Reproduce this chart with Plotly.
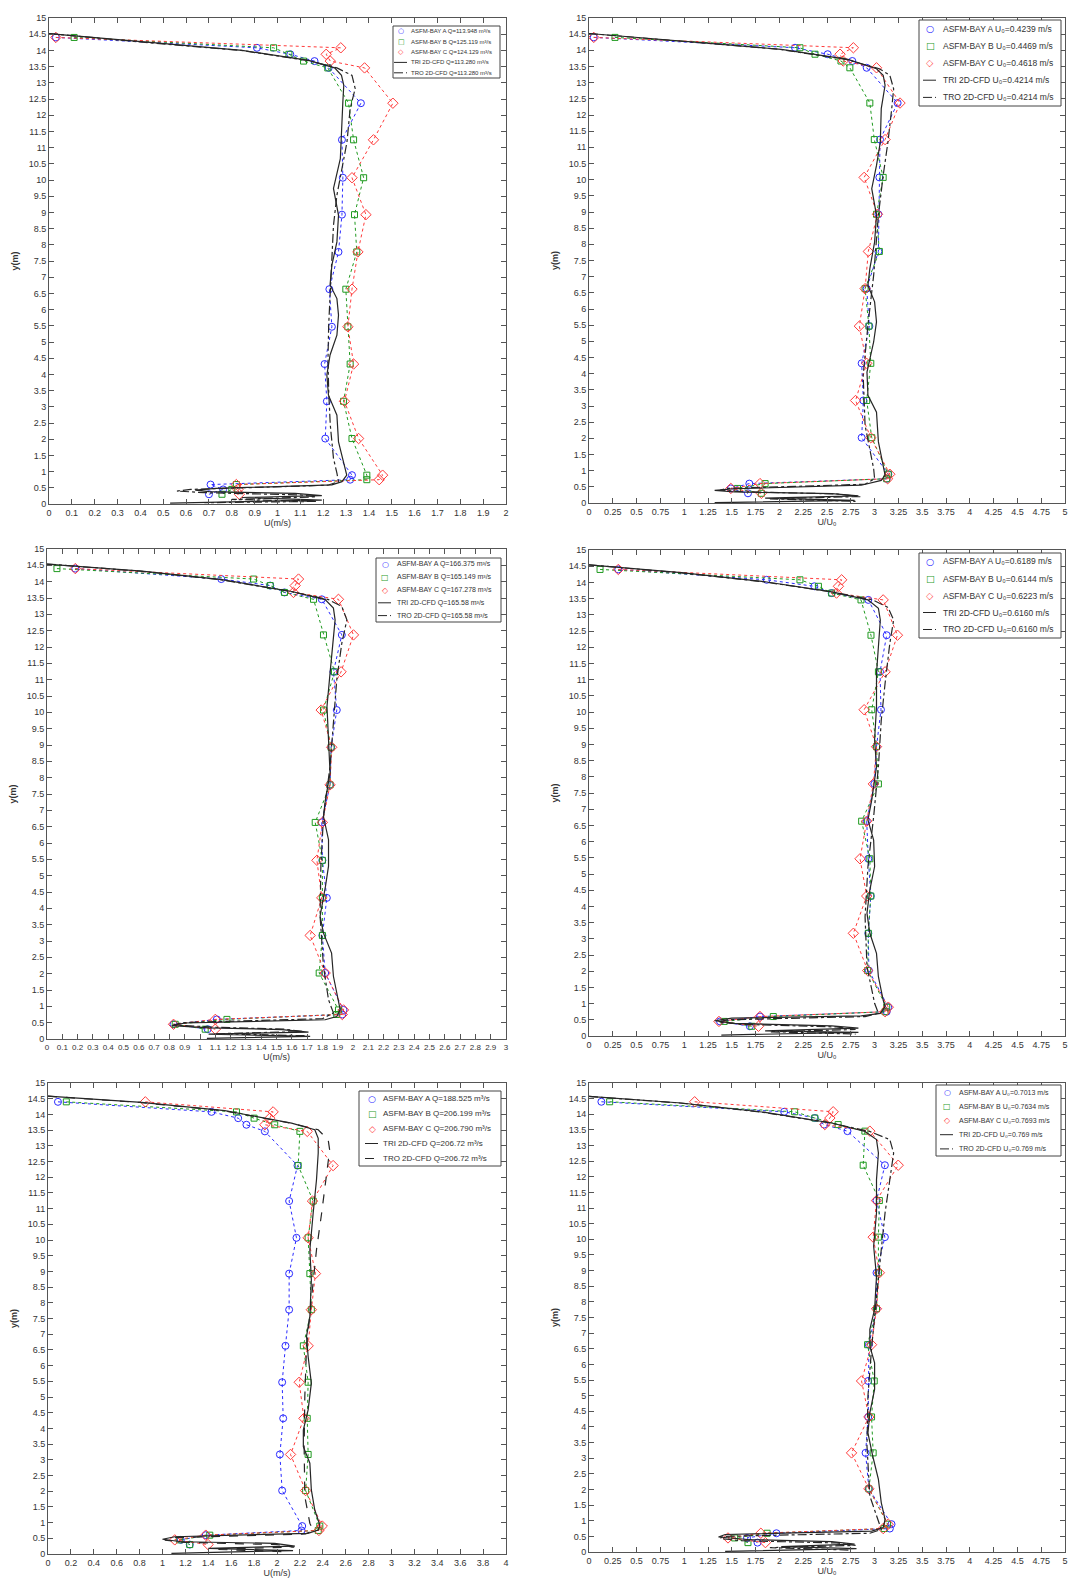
import plotly.graph_objects as go

W, H = 1077, 1594

# ---------------- data ----------------
# depths (m) of the ASFM measurement points (shared by all bays)
Y_MEAS = [14.40, 14.08, 13.88, 13.67, 13.46, 12.37, 11.24, 10.07, 8.93, 7.78,
          6.63, 5.47, 4.32, 3.17, 2.02, 0.89, 0.75, 0.60, 0.45, 0.30]

# Panel 1: U (m/s), low flow
P1_A = [0.03, 0.91, 1.056, 1.162, 1.224, 1.365, 1.282, 1.286, 1.282, 1.267, 1.227, 1.238, 1.206, 1.216, 1.209, 1.326, 1.318, 0.707, 0.762, 0.70]
P1_B = [0.11, 0.983, 1.05, 1.114, 1.22, 1.311, 1.333, 1.377, 1.337, 1.347, 1.299, 1.308, 1.318, 1.289, 1.326, 1.391, 1.391, 0.82, 0.80, 0.757]
P1_C = [0.03, 1.277, 1.213, 1.231, 1.381, 1.505, 1.42, 1.326, 1.387, 1.352, 1.326, 1.308, 1.333, 1.293, 1.355, 1.46, 1.445, 0.82, 0.827, 0.833]
P1_TRI_Y = [14.52, 14.26, 14.0, 13.69, 13.46, 13.23, 12.92, 12.41, 11.17, 10.66, 9.74, 8.91, 8.09, 7.37, 6.76, 6.34, 5.83, 5.21, 4.6, 3.98, 3.36, 2.74, 1.92, 1.1, 0.89, 0.69, 0.59, 0.48, 0.43, 0.38, 0.33, 0.26, 0.2, 0.12, 0.07, 0.03]
P1_TRI_X = [0.0, 0.41, 0.845, 1.136, 1.25, 1.28, 1.29, 1.286, 1.28, 1.275, 1.245, 1.267, 1.26, 1.238, 1.23, 1.26, 1.267, 1.26, 1.23, 1.216, 1.223, 1.26, 1.267, 1.296, 1.303, 1.282, 1.238, 0.73, 0.64, 0.70, 1.078, 1.194, 0.845, 1.194, 0.70, 0.53]
P1_TRO_Y = [14.52, 14.26, 14.0, 13.69, 13.46, 13.23, 12.82, 12.2, 11.17, 10.35, 9.53, 8.6, 7.58, 6.55, 5.52, 4.49, 3.46, 2.44, 1.41, 0.95, 0.69, 0.58, 0.45, 0.40, 0.35, 0.28, 0.22, 0.14, 0.08, 0.04]
P1_TRO_X = [0.0, 0.40, 0.84, 1.13, 1.26, 1.326, 1.34, 1.318, 1.304, 1.282, 1.26, 1.245, 1.238, 1.231, 1.224, 1.221, 1.224, 1.231, 1.245, 1.26, 1.267, 1.22, 0.62, 0.56, 0.68, 1.10, 1.17, 0.80, 1.17, 0.68]

# Panel 2: U/U0, low flow
P2_A = [0.05, 2.164, 2.507, 2.766, 2.917, 3.242, 3.057, 3.05, 3.04, 3.04, 2.917, 2.945, 2.864, 2.882, 2.864, 3.144, 3.127, 1.684, 1.49, 1.67]
P2_B = [0.273, 2.216, 2.374, 2.647, 2.74, 2.95, 2.997, 3.09, 3.02, 3.05, 2.9, 2.94, 2.96, 2.917, 2.97, 3.144, 3.127, 1.85, 1.56, 1.81]
P2_C = [0.05, 2.777, 2.637, 2.67, 3.02, 3.267, 3.11, 2.89, 3.03, 2.934, 2.9, 2.84, 2.917, 2.80, 2.96, 3.16, 3.137, 1.796, 1.49, 1.81]
P2_TRI_Y = [14.52, 14.28, 14.03, 13.72, 13.43, 13.23, 12.92, 12.2, 11.16, 10.44, 9.72, 8.9, 8.07, 7.25, 6.73, 6.22, 5.6, 4.98, 4.05, 3.33, 2.81, 1.89, 1.16, 0.86, 0.70, 0.55, 0.44, 0.39, 0.34, 0.29, 0.22, 0.15, 0.08, 0.01]
P2_TRI_X = [0.0, 0.97, 2.02, 2.72, 3.02, 3.09, 3.11, 3.07, 3.06, 3.02, 2.97, 3.02, 3.0, 2.95, 2.93, 3.0, 3.02, 2.99, 2.92, 2.93, 3.02, 3.04, 3.09, 3.11, 3.07, 2.86, 1.53, 1.32, 1.53, 2.55, 2.83, 1.85, 2.79, 1.32]
P2_TRO_Y = [14.52, 14.28, 14.03, 13.72, 13.43, 13.23, 12.81, 12.2, 11.16, 10.13, 8.9, 7.04, 5.5, 3.95, 2.4, 1.06, 0.75, 0.58, 0.45, 0.40, 0.35, 0.28, 0.20, 0.13, 0.05]
P2_TRO_X = [0.0, 0.95, 2.0, 2.70, 3.05, 3.16, 3.2, 3.18, 3.14, 3.09, 3.04, 2.99, 2.93, 2.88, 2.9, 2.99, 3.0, 2.9, 1.45, 1.38, 1.6, 2.6, 2.85, 1.9, 2.8]

# Panel 3: U (m/s), medium flow
P3_A = [0.185, 1.139, 1.459, 1.552, 1.796, 1.927, 1.872, 1.894, 1.857, 1.85, 1.796, 1.80, 1.829, 1.80, 1.818, 1.938, 1.93, 1.11, 0.827, 1.05]
P3_B = [0.065, 1.35, 1.459, 1.552, 1.742, 1.807, 1.879, 1.807, 1.857, 1.85, 1.753, 1.80, 1.80, 1.80, 1.779, 1.905, 1.894, 1.176, 0.838, 1.034]
P3_C = [0.185, 1.644, 1.622, 1.611, 1.905, 2.003, 1.922, 1.792, 1.861, 1.85, 1.80, 1.764, 1.796, 1.72, 1.818, 1.938, 1.93, 1.10, 0.827, 1.10]
P3_TRI_Y = [14.54, 14.32, 14.06, 13.7, 13.45, 13.19, 12.83, 12.22, 11.2, 10.18, 9.16, 8.14, 7.33, 6.81, 6.1, 5.29, 4.67, 3.76, 3.24, 2.63, 1.92, 1.2, 0.9, 0.69, 0.59, 0.49, 0.41, 0.34, 0.29, 0.21, 0.15, 0.08, 0.02]
P3_TRI_X = [0.0, 0.62, 1.143, 1.6, 1.818, 1.872, 1.883, 1.872, 1.85, 1.83, 1.84, 1.85, 1.82, 1.807, 1.84, 1.84, 1.82, 1.785, 1.807, 1.86, 1.872, 1.905, 1.916, 1.894, 1.818, 0.9, 0.816, 1.056, 1.535, 1.709, 1.056, 1.72, 1.045]
P3_TRO_Y = [14.54, 14.32, 14.06, 13.7, 13.45, 13.24, 12.83, 12.12, 11.0, 9.78, 8.35, 6.81, 5.29, 3.76, 2.22, 1.2, 0.8, 0.62, 0.50, 0.43, 0.36, 0.30, 0.23, 0.16, 0.10]
P3_TRO_X = [0.0, 0.61, 1.13, 1.59, 1.84, 1.927, 1.96, 1.927, 1.894, 1.872, 1.85, 1.807, 1.79, 1.785, 1.807, 1.84, 1.872, 1.80, 0.88, 0.83, 1.10, 1.55, 1.68, 1.10, 1.70]

# Panel 4: U/U0, medium flow
P4_A = [0.308, 1.866, 2.367, 2.549, 2.934, 3.127, 3.057, 3.067, 3.02, 2.997, 2.917, 2.934, 2.96, 2.934, 2.94, 3.144, 3.127, 1.796, 1.376, 1.69]
P4_B = [0.116, 2.216, 2.41, 2.549, 2.857, 2.962, 3.04, 2.97, 3.02, 3.04, 2.864, 2.95, 2.96, 2.934, 2.927, 3.127, 3.11, 1.936, 1.42, 1.71]
P4_C = [0.308, 2.654, 2.62, 2.6, 3.09, 3.24, 3.11, 2.89, 3.02, 2.987, 2.917, 2.847, 2.917, 2.777, 2.927, 3.144, 3.11, 1.796, 1.365, 1.78]
P4_TRI_Y = [14.54, 14.3, 14.02, 13.71, 13.46, 13.2, 12.84, 12.12, 11.19, 10.16, 9.14, 8.31, 7.28, 6.67, 6.05, 5.23, 4.51, 3.79, 3.17, 2.55, 1.83, 1.11, 0.91, 0.7, 0.62, 0.55, 0.47, 0.39, 0.31, 0.24, 0.16, 0.11, 0.03]
P4_TRI_X = [0.0, 0.97, 1.85, 2.55, 2.93, 3.04, 3.06, 3.04, 3.02, 3.02, 3.0, 3.02, 2.97, 2.93, 2.99, 3.0, 2.95, 2.92, 2.95, 3.02, 3.04, 3.09, 3.11, 3.06, 2.86, 1.5, 1.32, 1.53, 2.55, 2.83, 1.85, 2.83, 1.39]
P4_TRO_Y = [14.54, 14.3, 14.02, 13.71, 13.46, 13.23, 12.84, 12.12, 10.88, 9.75, 8.31, 6.77, 5.23, 3.68, 2.14, 1.01, 0.7, 0.60, 0.50, 0.43, 0.36, 0.28, 0.20, 0.13, 0.06]
P4_TRO_X = [0.0, 0.95, 1.83, 2.54, 2.98, 3.14, 3.2, 3.16, 3.11, 3.07, 3.04, 2.99, 2.93, 2.9, 2.92, 3.0, 3.04, 2.9, 1.45, 1.36, 1.6, 2.6, 2.8, 1.9, 2.8]

# Panel 5: U (m/s), high flow
P5_A = [0.087, 1.428, 1.661, 1.733, 1.894, 2.179, 2.106, 2.17, 2.106, 2.106, 2.074, 2.045, 2.054, 2.025, 2.045, 2.22, 2.214, 1.378, 1.16, 1.238]
P5_B = [0.16, 1.646, 1.80, 1.98, 2.2, 2.185, 2.316, 2.272, 2.287, 2.30, 2.23, 2.272, 2.264, 2.272, 2.25, 2.374, 2.36, 1.413, 1.15, 1.238]
P5_C = [0.85, 1.966, 1.937, 1.894, 2.264, 2.49, 2.31, 2.272, 2.336, 2.30, 2.272, 2.194, 2.235, 2.118, 2.25, 2.395, 2.366, 1.378, 1.107, 1.398]
P5_TRI_Y = [14.58, 14.38, 14.12, 13.72, 13.51, 13.24, 12.77, 11.92, 10.86, 9.69, 8.73, 7.56, 6.93, 6.29, 5.44, 4.59, 3.95, 3.42, 2.89, 2.04, 1.4, 0.92, 0.76, 0.66, 0.55, 0.47, 0.39, 0.34, 0.25, 0.18, 0.11, 0.02]
P5_TRI_X = [0.0, 0.816, 1.544, 2.127, 2.33, 2.36, 2.36, 2.345, 2.316, 2.287, 2.3, 2.287, 2.258, 2.272, 2.3, 2.272, 2.23, 2.23, 2.287, 2.3, 2.33, 2.374, 2.36, 2.27, 1.107, 1.0, 1.165, 1.98, 2.156, 1.4, 2.14, 1.078]
P5_TRO_Y = [14.58, 14.38, 14.12, 13.72, 13.51, 13.19, 12.87, 11.92, 10.86, 9.69, 8.2, 6.61, 5.02, 3.42, 1.83, 0.98, 0.76, 0.64, 0.52, 0.44, 0.37, 0.30, 0.22, 0.15, 0.07]
P5_TRO_X = [0.0, 0.80, 1.53, 2.12, 2.36, 2.447, 2.46, 2.43, 2.39, 2.345, 2.3, 2.258, 2.243, 2.237, 2.243, 2.287, 2.316, 2.25, 1.08, 1.02, 1.2, 2.0, 2.15, 1.45, 2.1]

# Panel 6: U/U0, high flow
P6_A = [0.13, 2.05, 2.372, 2.47, 2.715, 3.108, 3.02, 3.108, 3.02, 3.02, 2.94, 2.933, 2.933, 2.905, 2.94, 3.178, 3.16, 1.969, 1.66, 1.77]
P6_B = [0.217, 2.16, 2.372, 2.617, 2.898, 2.88, 3.05, 3.04, 3.04, 3.02, 2.926, 2.996, 2.968, 2.985, 2.94, 3.136, 3.1, 1.871, 1.53, 1.67]
P6_C = [1.11, 2.565, 2.53, 2.477, 2.95, 3.248, 3.02, 2.985, 3.05, 3.02, 2.968, 2.863, 2.94, 2.758, 2.94, 3.143, 3.09, 1.805, 1.46, 1.853]
P6_TRI_Y = [14.57, 14.36, 14.06, 13.72, 13.45, 13.19, 12.76, 11.91, 10.85, 9.78, 8.82, 7.76, 7.12, 6.58, 6.05, 5.2, 4.45, 3.81, 3.07, 2.32, 1.58, 1.04, 0.78, 0.67, 0.56, 0.48, 0.4, 0.33, 0.25, 0.17, 0.11, 0.02]
P6_TRI_X = [0.0, 0.97, 1.85, 2.55, 2.9, 3.02, 3.04, 3.02, 3.02, 2.99, 3.02, 3.0, 2.95, 2.95, 3.0, 3.0, 2.95, 2.93, 2.98, 3.04, 3.07, 3.11, 3.09, 2.97, 1.43, 1.36, 1.67, 2.55, 2.79, 2.02, 2.81, 1.43]
P6_TRO_Y = [14.57, 14.36, 14.06, 13.72, 13.45, 13.19, 12.76, 11.91, 10.85, 9.67, 8.18, 6.58, 4.99, 3.39, 1.79, 0.94, 0.72, 0.60, 0.50, 0.43, 0.36, 0.29, 0.21, 0.14, 0.06]
P6_TRO_X = [0.0, 0.95, 1.83, 2.54, 2.95, 3.16, 3.2, 3.16, 3.11, 3.07, 3.02, 2.97, 2.93, 2.92, 2.95, 3.04, 3.07, 2.95, 1.40, 1.38, 1.6, 2.6, 2.8, 1.9, 2.75]

# legend labels
LEG1 = ["ASFM-BAY A Q=113.948 m³/s", "ASFM-BAY B Q=125.119 m³/s", "ASFM-BAY C Q=124.129 m³/s",
        "TRI 2D-CFD Q=113.280 m³/s", "TRO 2D-CFD Q=113.280 m³/s"]
LEG2 = ["ASFM-BAY A U₀=0.4239 m/s", "ASFM-BAY B U₀=0.4469 m/s", "ASFM-BAY C U₀=0.4618 m/s",
        "TRI 2D-CFD U₀=0.4214 m/s", "TRO 2D-CFD U₀=0.4214 m/s"]
LEG3 = ["ASFM-BAY A Q=166.375 m³/s", "ASFM-BAY B Q=165.149 m³/s", "ASFM-BAY C Q=167.278 m³/s",
        "TRI 2D-CFD Q=165.58 m³/s", "TRO 2D-CFD Q=165.58 m³/s"]
LEG4 = ["ASFM-BAY A U₀=0.6189 m/s", "ASFM-BAY B U₀=0.6144 m/s", "ASFM-BAY C U₀=0.6223 m/s",
        "TRI 2D-CFD U₀=0.6160 m/s", "TRO 2D-CFD U₀=0.6160 m/s"]
LEG5 = ["ASFM-BAY A Q=188.525 m³/s", "ASFM-BAY B Q=206.199 m³/s", "ASFM-BAY C Q=206.790 m³/s",
        "TRI 2D-CFD Q=206.72 m³/s", "TRO 2D-CFD Q=206.72 m³/s"]
LEG6 = ["ASFM-BAY A U₀=0.7013 m/s", "ASFM-BAY B U₀=0.7634 m/s", "ASFM-BAY C U₀=0.7693 m/s",
        "TRI 2D-CFD U₀=0.769 m/s", "TRO 2D-CFD U₀=0.769 m/s"]

X_TITLES = ["U(m/s)", "U/U₀", "U(m/s)", "U/U₀", "U(m/s)", "U/U₀"]
X_RANGES = [(0, 2), (0, 5), (0, 3), (0, 5), (0, 4), (0, 5)]
X_DTICKS = [0.1, 0.25, 0.1, 0.25, 0.2, 0.25]
TRO_DASH = ["dashdot", "dashdot", "dashdot", "dashdot", "dash", "dashdot"]

# ---------------- layout geometry (pixels) ----------------
BOXES = [(41, 10, 498, 496), (581, 10, 1057, 495),
         (39, 541, 498, 1031), (581, 542, 1057, 1028),
         (40, 1075, 498, 1546), (581, 1075, 1057, 1544)]
# legend box: left, top, right, bottom, font size, marker offset, text offset
LEG_BOXES = [(385, 18, 492, 70, 6, 8, 16), (911, 12, 1053, 98, 8.5, 11, 22),
             (368, 550, 493, 614, 7, 9, 19), (911, 545, 1053, 630, 8.5, 11, 22),
             (351, 1083, 493, 1158, 8, 13, 22), (928, 1077, 1053, 1148, 7, 11, 21)]

BLUE, GREEN, RED, CFD = "#2a2aff", "#1f9a1f", "#ff3a3a", "#262626"
FONT = "Liberation Sans, Arial, DejaVu Sans, sans-serif"
AXC = "#555555"

PANELS = [
    (P1_A, P1_B, P1_C, P1_TRI_X, P1_TRI_Y, P1_TRO_X, P1_TRO_Y, LEG1),
    (P2_A, P2_B, P2_C, P2_TRI_X, P2_TRI_Y, P2_TRO_X, P2_TRO_Y, LEG2),
    (P3_A, P3_B, P3_C, P3_TRI_X, P3_TRI_Y, P3_TRO_X, P3_TRO_Y, LEG3),
    (P4_A, P4_B, P4_C, P4_TRI_X, P4_TRI_Y, P4_TRO_X, P4_TRO_Y, LEG4),
    (P5_A, P5_B, P5_C, P5_TRI_X, P5_TRI_Y, P5_TRO_X, P5_TRO_Y, LEG5),
    (P6_A, P6_B, P6_C, P6_TRI_X, P6_TRI_Y, P6_TRO_X, P6_TRO_Y, LEG6),
]


def px(x):
    return x / W


def py(y):
    return 1 - y / H


fig = go.Figure()
layout = {}
shapes = []
annotations = []

MEAS_STYLE = [(BLUE, "circle-open", 7), (GREEN, "square-open", 6), (RED, "diamond-open", 8)]

for i, (pa, pb, pc, tx, ty, ox, oy, leg) in enumerate(PANELS):
    n = i + 1
    xa = "x" if n == 1 else f"x{n}"
    ya = "y" if n == 1 else f"y{n}"
    for vals, (col, sym, sz), name in zip((pa, pb, pc), MEAS_STYLE, leg[:3]):
        fig.add_trace(go.Scatter(
            x=vals, y=Y_MEAS, xaxis=xa, yaxis=ya, mode="lines+markers", name=name,
            line=dict(color=col, width=1, dash="dot"),
            marker=dict(symbol=sym, size=sz, color=col, line=dict(width=1, color=col)),
            showlegend=False))
    fig.add_trace(go.Scatter(x=tx, y=ty, xaxis=xa, yaxis=ya, mode="lines", name=leg[3],
                             line=dict(color=CFD, width=1.2), showlegend=False))
    fig.add_trace(go.Scatter(x=ox, y=oy, xaxis=xa, yaxis=ya, mode="lines", name=leg[4],
                             line=dict(color=CFD, width=1.2, dash=TRO_DASH[i]), showlegend=False))

    l, t, r, b = BOXES[i]
    suffix = "" if n == 1 else str(n)
    layout[f"xaxis{suffix}"] = dict(
        domain=[px(l), px(r)], range=list(X_RANGES[i]), dtick=X_DTICKS[i], tick0=0,
        anchor=ya, showline=True, linecolor=AXC, linewidth=1, mirror="ticks",
        ticks="inside", ticklen=5, tickcolor=AXC, tickangle=0, showgrid=False, zeroline=False,
        tickfont=dict(family=FONT, size=8 if n == 3 else 9, color="#333333"),
        title=dict(text=X_TITLES[i], font=dict(family=FONT, size=9, color="#333333"), standoff=2),
        automargin=False)
    layout[f"yaxis{suffix}"] = dict(
        domain=[py(b), py(t)], range=[0, 15], dtick=0.5, tick0=0,
        anchor=xa, showline=True, linecolor=AXC, linewidth=1, mirror="ticks",
        ticks="inside", ticklen=5, tickcolor=AXC, showgrid=False, zeroline=False,
        tickfont=dict(family=FONT, size=9, color="#333333"),
        title=dict(text="<b>y(m)</b>", font=dict(family=FONT, size=9, color="#333333"), standoff=8),
        automargin=False)

    # legend box (MATLAB style)
    ll, lt, lr, lb, fs, mo, to = LEG_BOXES[i]
    shapes.append(dict(type="rect", xref="paper", yref="paper", x0=px(ll), x1=px(lr),
                       y0=py(lb), y1=py(lt), line=dict(color="#444444", width=1),
                       fillcolor="white", layer="above"))
    rh = (lb - lt) / 5.0
    syms = [("○", BLUE), ("□", GREEN), ("◇", RED)]
    for k, lab in enumerate(leg):
        yc = lt + rh * (k + 0.5)
        if k < 3:
            annotations.append(dict(xref="paper", yref="paper", x=px(ll + mo), y=py(yc),
                                    text=syms[k][0], showarrow=False, xanchor="center", yanchor="middle",
                                    font=dict(family="DejaVu Sans", size=fs + 1, color=syms[k][1])))
        else:
            shapes.append(dict(type="line", xref="paper", yref="paper", x0=px(ll + mo - 7), x1=px(ll + mo + 6),
                               y0=py(yc), y1=py(yc), layer="above",
                               line=dict(color=CFD, width=1,
                                         dash="solid" if k == 3 else TRO_DASH[i])))
        annotations.append(dict(xref="paper", yref="paper", x=px(ll + to), y=py(yc), text=lab,
                                showarrow=False, xanchor="left", yanchor="middle",
                                font=dict(family=FONT, size=fs, color="#333333")))

fig.update_layout(
    width=W, height=H, margin=dict(l=0, r=0, t=0, b=0),
    paper_bgcolor="white", plot_bgcolor="white", showlegend=False,
    shapes=shapes, annotations=annotations, **layout)

fig.write_html("out.html")
